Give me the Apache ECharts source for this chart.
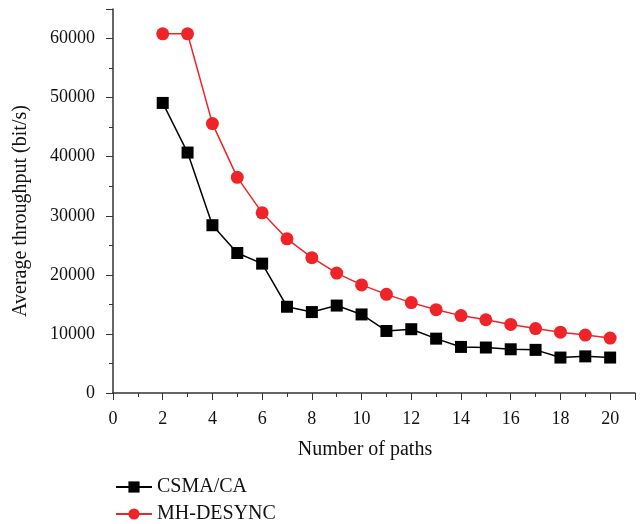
<!DOCTYPE html>
<html>
<head>
<meta charset="utf-8">
<script src="https://cdn.jsdelivr.net/npm/echarts@6/dist/echarts.min.js"></script>
<style>html,body{margin:0;padding:0;background:#fff}#c{width:643px;height:524px}</style>
</head>
<body>
<div id="c"></div>
<script>
const paths = [2,3,4,5,6,7,8,9,10,11,12,13,14,15,16,17,18,19,20];
const csma = [49100,40700,28400,23700,21900,14600,13700,14800,13300,10500,10800,9200,7800,7700,7400,7300,6000,6200,6000];
const mhdesync = [60800,60800,45600,36500,30500,26100,22900,20300,18300,16700,15300,14100,13100,12400,11600,10900,10300,9800,9300];
const seriesNames = ['CSMA/CA','MH-DESYNC'];

const font = 'Liberation Serif';
const chart = echarts.init(document.getElementById('c'));
const axisLine = {show:true, lineStyle:{color:'#333', width:1.5}};
const legendText = {fontFamily:font, fontSize:20, color:'#111'};
chart.setOption({
  animation:false,
  textStyle:{fontFamily:font},
  grid:{left:113, right:8, top:9, bottom:131, containLabel:false},
  legend:[
    {orient:'vertical', left:110, top:472, itemWidth:36, itemHeight:14, itemGap:8,
     textStyle:legendText, data:[seriesNames[0]]},
    {orient:'vertical', left:110, top:499, itemWidth:36, itemHeight:14, itemGap:8,
     textStyle:legendText, data:[seriesNames[1]]}
  ],
  xAxis:{
    type:'value', min:0, max:21, interval:2,
    name:'Number of paths', nameLocation:'middle', nameGap:47,
    nameTextStyle:{fontFamily:font, fontSize:20, color:'#111', padding:[0,18,0,0]},
    axisLine:axisLine,
    axisTick:{show:true, length:7, inside:false, lineStyle:{color:'#333'}},
    minorTick:{show:true, splitNumber:2, length:4, lineStyle:{color:'#333'}},
    splitLine:{show:false},
    axisLabel:{fontFamily:font, fontSize:18, color:'#111', margin:17, showMaxLabel:false}
  },
  yAxis:{
    type:'value', min:0, max:65000, interval:10000,
    name:'Average throughput (bit/s)', nameLocation:'middle', nameGap:82,
    nameTextStyle:{fontFamily:font, fontSize:20, color:'#111', padding:[0,20,0,0]},
    axisLine:axisLine,
    axisTick:{show:true, length:7, lineStyle:{color:'#333'}},
    minorTick:{show:true, splitNumber:2, length:4, lineStyle:{color:'#333'}},
    splitLine:{show:false},
    axisLabel:{fontFamily:font, fontSize:18, color:'#111', margin:18, showMaxLabel:false,
               formatter:v => String(v)}
  },
  series:[
    {name:seriesNames[0], type:'line', data:paths.map((x,i)=>[x,csma[i]]),
     symbol:'rect', symbolSize:12, itemStyle:{color:'#000'}, lineStyle:{color:'#000', width:1.5}},
    {name:seriesNames[1], type:'line', data:paths.map((x,i)=>[x,mhdesync[i]]),
     symbol:'circle', symbolSize:13, itemStyle:{color:'#ee2428'}, lineStyle:{color:'#ee2428', width:1.5}}
  ]
});
</script>
</body>
</html>
